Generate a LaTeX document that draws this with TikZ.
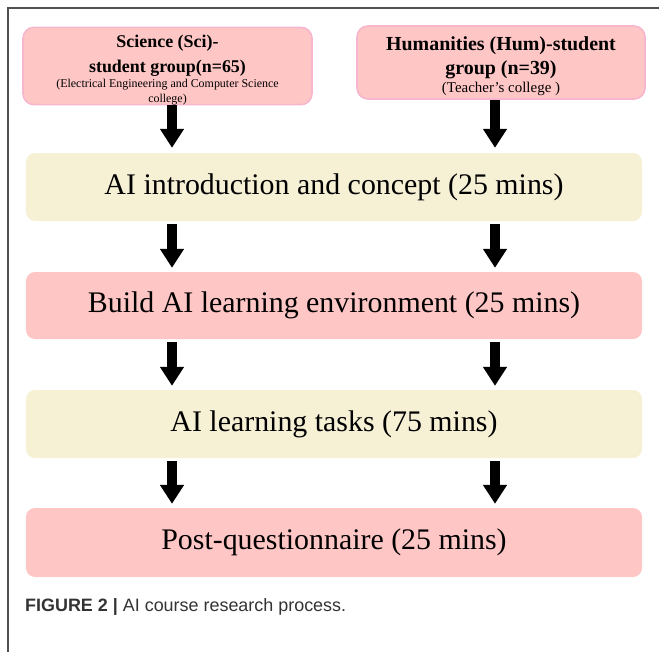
\documentclass[tikz,border=0pt]{standalone}
\usepackage{fontspec}
\setmainfont{Liberation Serif}
\newfontfamily\capfont{Liberation Sans}
\usetikzlibrary{arrows.meta,positioning,calc}
\definecolor{Rose}{HTML}{FFC6C6}
\definecolor{RoseEdge}{HTML}{F8B6CE}
\definecolor{Cream}{HTML}{F6F0D5}
\definecolor{Frame}{HTML}{505050}
\definecolor{CapInk}{HTML}{333333}
\tikzset{
  group/.style={draw=RoseEdge,line width=1.6bp,fill=Rose,rounded corners=11bp,align=center,inner sep=0pt,font=\fontsize{18}{22}\selectfont},
  stage/.style={rounded corners=9bp,minimum width=616bp,inner sep=0pt,font=\fontsize{30}{36}\selectfont},
  barrow/.style={line width=10bp,draw=black,-{Triangle[length=19bp,width=23bp]}},
}
\begin{document}
\begin{tikzpicture}[x=1bp,y=-1bp,
 pink/.style={stage,fill=Rose},
 cream/.style={stage,fill=Cream},
 caption/.style={anchor=west,inner sep=0pt,text=CapInk,font=\capfont\fontsize{18}{21}\selectfont}]
\useasboundingbox (0,0) rectangle (659,652);
\draw[draw=Frame,line width=1.2bp] (8,660) -- (8,8) -- (670,8);
% two student groups
\node[group,minimum width=289bp,minimum height=74bp] (sci) at (167.5,66)
 {\rule{0pt}{20bp}\bfseries Science (Sci)-\\[3bp]
  \bfseries student group(n=65)\\[-7bp]
  \fontsize{12}{14}\selectfont (Electrical Engineering and Computer Science\\[-7bp]
  \fontsize{12}{14}\selectfont college)};
\node[group,minimum width=288bp,minimum height=73bp,font=\fontsize{20}{24}\selectfont] (hum) at (501,62.5)
 {\rule{0pt}{22bp}\bfseries Humanities (Hum)-student\\
  \bfseries group (n=39)\\[-6bp]
  \fontsize{15}{18}\selectfont (Teacher's college )};
% course stages
\node[cream,minimum height=68bp] (intro) at (334,187) {AI introduction and concept (25 mins)};
\node[pink,minimum height=67bp] (build) at (334,305.5) {Build AI learning environment (25 mins)};
\node[cream,minimum height=68bp] (tasks) at (334,424) {AI learning tasks (75 mins)};
\node[pink,minimum height=69bp] (post) at (334,542.5) {Post-questionnaire (25 mins)};
% arrow columns
\coordinate (lx) at (172,0);
\coordinate (rx) at (495,0);
\draw[barrow,shorten >=5bp] (sci.south -| lx) -- (intro.north -| lx);
\draw[barrow,shorten >=5bp] (hum.south -| rx) -- (intro.north -| rx);
\draw[barrow,shorten <=3bp,shorten >=4bp] (intro.south -| lx) -- (build.north -| lx);
\draw[barrow,shorten <=3bp,shorten >=4bp] (intro.south -| rx) -- (build.north -| rx);
\draw[barrow,shorten <=3bp,shorten >=4bp] (build.south -| lx) -- (tasks.north -| lx);
\draw[barrow,shorten <=3bp,shorten >=4bp] (build.south -| rx) -- (tasks.north -| rx);
\draw[barrow,shorten <=3bp,shorten >=4bp] (tasks.south -| lx) -- (post.north -| lx);
\draw[barrow,shorten <=3bp,shorten >=4bp] (tasks.south -| rx) -- (post.north -| rx);
% caption
\node[caption] (cap) at (25,607) {\textbf{FIGURE 2 |} AI course research process.};
\end{tikzpicture}
\end{document}
